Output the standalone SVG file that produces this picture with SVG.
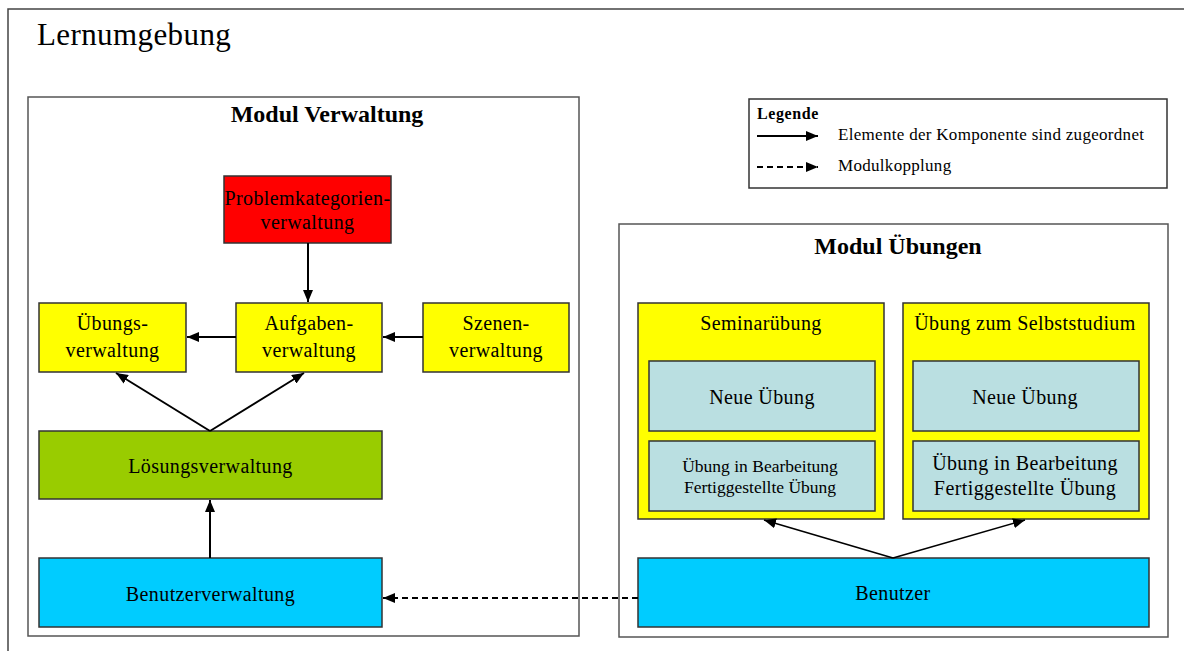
<svg xmlns="http://www.w3.org/2000/svg" width="1184" height="651" viewBox="0 0 1184 651" font-family="'Liberation Serif', 'DejaVu Serif', serif">
  <defs>
    <marker id="arrow" viewBox="0 0 12 10" refX="12" refY="5" markerWidth="12" markerHeight="10" markerUnits="userSpaceOnUse" orient="auto">
      <path d="M0,0 L12,5 L0,10 Z" fill="#000"/>
    </marker>
    <style>
      text { font-family: 'Liberation Serif', 'DejaVu Serif', serif; fill: #000; }
      .frame { fill: #fff; stroke: #555; stroke-width: 1.5; }
      .node { stroke: #333; stroke-width: 1.5; }
      .yellow { fill: #ffff00; }
      .red { fill: #ff0000; }
      .green { fill: #99cc00; }
      .cyan { fill: #00ccff; }
      .pale { fill: #badfe1; }
      .lbl { font-size: 20px; letter-spacing: 0.4px; text-anchor: middle; }
      .small { font-size: 17.5px; letter-spacing: 0; text-anchor: middle; }
      .title { font-size: 24px; font-weight: bold; text-anchor: middle; }
      .leg { font-size: 17px; letter-spacing: 0.3px; }
      .edge { stroke: #000; stroke-width: 2; fill: none; marker-end: url(#arrow); }
      .thin { stroke-width: 1.6; }
      .dash { stroke-dasharray: 6 4; }
    </style>
  </defs>

  <rect width="1184" height="651" fill="#fff"/>

  <!-- outer environment frame -->
  <rect x="8" y="9" width="1200" height="680" fill="none" stroke="#444" stroke-width="1.5"/>
  <text x="37" y="45" font-size="31" letter-spacing="0.4">Lernumgebung</text>

  <!-- module: Verwaltung -->
  <g id="modul-verwaltung">
    <rect class="frame" x="28" y="97" width="551" height="539"/>
    <text class="title" x="327" y="122">Modul Verwaltung</text>
  </g>

  <g id="problemkategorien">
    <rect class="node red" x="224" y="176" width="167" height="67"/>
    <text class="lbl" x="307.5" y="205">Problemkategorien-</text>
    <text class="lbl" x="307.5" y="229">verwaltung</text>
  </g>

  <g id="uebungsverwaltung">
    <rect class="node yellow" x="39" y="303" width="147" height="69"/>
    <text class="lbl" x="112.5" y="330">Übungs-</text>
    <text class="lbl" x="112.5" y="357">verwaltung</text>
  </g>

  <g id="aufgabenverwaltung">
    <rect class="node yellow" x="236" y="303" width="146" height="69"/>
    <text class="lbl" x="309" y="330">Aufgaben-</text>
    <text class="lbl" x="309" y="357">verwaltung</text>
  </g>

  <g id="szenenverwaltung">
    <rect class="node yellow" x="423" y="303" width="146" height="69"/>
    <text class="lbl" x="496" y="330">Szenen-</text>
    <text class="lbl" x="496" y="357">verwaltung</text>
  </g>

  <g id="loesungsverwaltung">
    <rect class="node green" x="39" y="431" width="343" height="68"/>
    <text class="lbl" x="210.5" y="473">Lösungsverwaltung</text>
  </g>

  <g id="benutzerverwaltung">
    <rect class="node cyan" x="39" y="558" width="343" height="69"/>
    <text class="lbl" x="210.5" y="601">Benutzerverwaltung</text>
  </g>

  <!-- legend -->
  <g id="legende">
    <rect x="749" y="99" width="418" height="89" fill="#fff" stroke="#333" stroke-width="1.5"/>
    <text x="757" y="119" font-size="16" font-weight="bold" letter-spacing="0.6">Legende</text>
    <line class="edge" x1="757" y1="136" x2="818" y2="136"/>
    <text class="leg" x="838" y="140">Elemente der Komponente sind zugeordnet</text>
    <line class="edge dash" x1="757" y1="167" x2="818" y2="167"/>
    <text class="leg" x="838" y="171">Modulkopplung</text>
  </g>

  <!-- module: Übungen -->
  <g id="modul-uebungen">
    <rect class="frame" x="619" y="224" width="549" height="413"/>
    <text class="title" x="898" y="254">Modul Übungen</text>
  </g>

  <g id="seminaruebung">
    <rect class="node yellow" x="638" y="303" width="246" height="216"/>
    <text class="lbl" x="761" y="330">Seminarübung</text>
    <rect class="node pale" x="649" y="361" width="226" height="70"/>
    <text class="lbl" x="762" y="404">Neue Übung</text>
    <rect class="node pale" x="649" y="441" width="226" height="70"/>
    <text class="small" x="760" y="472">Übung in Bearbeitung</text>
    <text class="small" x="760" y="493">Fertiggestellte Übung</text>
  </g>

  <g id="selbststudium">
    <rect class="node yellow" x="903" y="303" width="246" height="216"/>
    <text class="lbl" x="1025" y="330">Übung zum Selbststudium</text>
    <rect class="node pale" x="913" y="361" width="226" height="70"/>
    <text class="lbl" x="1025" y="404">Neue Übung</text>
    <rect class="node pale" x="913" y="441" width="226" height="70"/>
    <text class="lbl" x="1025" y="470">Übung in Bearbeitung</text>
    <text class="lbl" x="1025" y="495">Fertiggestellte Übung</text>
  </g>

  <g id="benutzer">
    <rect class="node cyan" x="638" y="558" width="511" height="69"/>
    <text class="lbl" x="893" y="600">Benutzer</text>
  </g>

  <!-- connectors -->
  <g id="connectors">
    <line class="edge" x1="308" y1="243" x2="308" y2="302"/>
    <line class="edge" x1="236" y1="337" x2="187" y2="337"/>
    <line class="edge" x1="423" y1="337" x2="383" y2="337"/>
    <line class="edge" x1="210" y1="431" x2="116" y2="373"/>
    <line class="edge" x1="210" y1="431" x2="304" y2="373"/>
    <line class="edge" x1="210" y1="558" x2="210" y2="500"/>
    <line class="edge thin" x1="893" y1="558" x2="764" y2="520"/>
    <line class="edge thin" x1="893" y1="558" x2="1025" y2="520"/>
    <line class="edge dash" x1="638" y1="598" x2="383" y2="598"/>
  </g>
</svg>
